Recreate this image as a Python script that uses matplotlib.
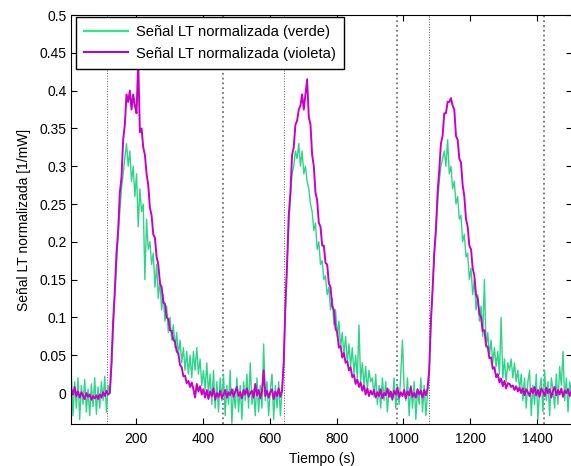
import numpy as np
import matplotlib
matplotlib.use('Agg')
import matplotlib.pyplot as plt
from matplotlib.lines import Line2D
from matplotlib.ticker import FuncFormatter

plt.rcParams['font.family'] = ['Liberation Sans', 'DejaVu Sans']

# muestreo cada 5 s desde t = 7 s
t0 = 7
dt = 5

# tramo A: linea base inicial (7-117 s)
violeta_a = [0.005, -0.002, 0.008, -0.004, 0.002, -0.006, 0.001, -0.003, -0.008, 0.000,
             -0.005, -0.002, -0.009, -0.004, -0.007, -0.003, -0.008, -0.002, -0.006, 0.001,
             -0.004, 0.003, -0.002]
verde_a = [0.025, -0.03, 0.015, -0.02, 0.02, -0.035, 0.01, -0.015, 0.018, -0.025,
           0.005, -0.03, 0.012, -0.018, 0.02, -0.028, 0.008, -0.02, 0.015, -0.01,
           0.022, -0.025, 0.01]

# tramo B: primer pulso (122-397 s)
violeta_b = [0.0, 0.04, 0.095, 0.135, 0.185, 0.215, 0.265, 0.285, 0.335, 0.355,
             0.395, 0.385, 0.40, 0.375, 0.395, 0.38, 0.37, 0.44, 0.345, 0.35,
             0.325, 0.315, 0.29, 0.275, 0.245, 0.235, 0.21, 0.205, 0.18, 0.17,
             0.145, 0.14, 0.12, 0.118, 0.1, 0.098, 0.083, 0.082, 0.07, 0.068,
             0.055, 0.052, 0.037, 0.034, 0.022, 0.023, 0.013, 0.016, 0.008, 0.014,
             0.005, -0.006, 0.012, 0.002, 0.009, -0.002]
verde_b = [0.0, 0.03, 0.08, 0.13, 0.17, 0.21, 0.24, 0.27, 0.29, 0.31,
           0.33, 0.30, 0.32, 0.28, 0.30, 0.26, 0.29, 0.22, 0.27, 0.24,
           0.25, 0.15, 0.23, 0.19, 0.20, 0.17, 0.185, 0.14, 0.17, 0.125,
           0.15, 0.11, 0.13, 0.095, 0.115, 0.08, 0.10, 0.07, 0.09, 0.06,
           0.08, 0.05, 0.07, 0.04, 0.06, 0.03, 0.055, 0.025, 0.05, 0.02,
           0.055, 0.03, 0.06, 0.025, 0.045, 0.01]

# tramo C: linea base (402-637 s)
violeta_c = [0.005, -0.006, 0.004, -0.008, 0.002, -0.004, 0.006, -0.009, 0.000, -0.005,
             0.003, -0.007, -0.002, 0.004, -0.006, 0.001, -0.003, 0.005, -0.005, 0.002,
             0.008, -0.004, 0.001, -0.007, 0.004, -0.002, 0.006, -0.005, 0.0, 0.003,
             -0.006, 0.012, -0.003, 0.004, -0.007, 0.002, 0.03, -0.004, 0.003, -0.006,
             0.001, 0.005, -0.008, 0.002, -0.004, 0.006, -0.005, 0.003]
verde_c = [0.03, 0.005, 0.04, 0.0, 0.025, -0.015, 0.03, -0.02, 0.015, -0.025,
           0.02, -0.01, 0.025, -0.03, 0.01, -0.015, 0.03, -0.04, 0.005, -0.02,
           0.02, -0.025, 0.01, -0.035, 0.015, -0.01, 0.025, -0.02, 0.04, -0.015,
           0.005, -0.03, 0.02, -0.025, 0.01, -0.02, 0.065, -0.01, 0.015, -0.03,
           0.005, 0.025, -0.035, 0.01, -0.02, 0.015, -0.03, 0.005]

# tramo D: segundo pulso (642-902 s)
violeta_d = [0.04, 0.115, 0.17, 0.235, 0.265, 0.315, 0.325, 0.355, 0.36, 0.375,
             0.38, 0.395, 0.375, 0.395, 0.415, 0.365, 0.355, 0.315, 0.3, 0.265,
             0.255, 0.225, 0.22, 0.195, 0.195, 0.172, 0.17, 0.145, 0.14, 0.115,
             0.11, 0.085, 0.08, 0.06, 0.062, 0.047, 0.053, 0.04, 0.042, 0.03,
             0.034, 0.021, 0.024, 0.012, 0.018, 0.008, 0.014, 0.003, 0.01, -0.002,
             0.006, -0.004, 0.003]
verde_d = [0.04, 0.11, 0.17, 0.22, 0.26, 0.29, 0.30, 0.32, 0.31, 0.33,
           0.30, 0.32, 0.29, 0.30, 0.28, 0.27, 0.25, 0.24, 0.215, 0.225,
           0.19, 0.20, 0.17, 0.175, 0.15, 0.155, 0.13, 0.14, 0.11, 0.125,
           0.09, 0.11, 0.075, 0.095, 0.06, 0.08, 0.05, 0.075, 0.04, 0.065,
           0.035, 0.06, 0.025, 0.05, 0.02, 0.09, 0.015, 0.04, 0.01, 0.035,
           0.005, 0.03, 0.015]

# tramo E: linea base (907-1072 s)
violeta_e = [-0.002, 0.004, -0.006, 0.001, -0.004, 0.005, -0.007, 0.0, -0.003, 0.006,
             -0.005, 0.002, -0.008, 0.003, -0.002, 0.007, -0.006, 0.001, -0.004, 0.004,
             -0.007, 0.002, -0.003, 0.008, -0.005, 0.0, -0.006, 0.005, -0.002, 0.003,
             -0.006, 0.004, -0.003, 0.006]
verde_e = [0.02, -0.005, 0.025, -0.015, 0.01, -0.02, 0.02, -0.01, 0.015, -0.025,
           0.005, -0.005, -0.01, 0.02, -0.02, 0.01, -0.015, 0.025, 0.07, 0.005,
           -0.01, 0.02, -0.03, 0.01, -0.02, 0.015, -0.035, 0.005, -0.015, 0.02,
           -0.025, 0.01, -0.03, 0.0]

# tramo F: tercer pulso (1077-1312 s)
violeta_f = [0.03, 0.095, 0.135, 0.185, 0.215, 0.265, 0.295, 0.33, 0.34, 0.37,
             0.37, 0.385, 0.385, 0.39, 0.38, 0.375, 0.34, 0.335, 0.31, 0.305,
             0.275, 0.26, 0.23, 0.22, 0.195, 0.19, 0.165, 0.155, 0.13, 0.125,
             0.105, 0.1, 0.082, 0.083, 0.063, 0.061, 0.046, 0.047, 0.032, 0.034,
             0.021, 0.025, 0.014, 0.019, 0.009, 0.016, 0.006, 0.013]
verde_f = [0.03, 0.09, 0.14, 0.18, 0.22, 0.25, 0.28, 0.30, 0.31, 0.32,
           0.30, 0.335, 0.29, 0.30, 0.27, 0.28, 0.25, 0.26, 0.23, 0.235,
           0.20, 0.21, 0.18, 0.185, 0.15, 0.165, 0.13, 0.15, 0.11, 0.13,
           0.095, 0.115, 0.075, 0.15, 0.06, 0.08, 0.05, 0.07, 0.04, 0.06,
           0.035, 0.055, 0.025, 0.1, 0.02, 0.045, 0.015, 0.04]

# tramo G: linea base final (1317-1502 s)
violeta_g = [0.012, 0.008, 0.01, 0.004, 0.009, 0.002, 0.007, 0.0, 0.006, -0.003,
             0.005, 0.001, -0.004, 0.006, 0.0, 0.008, -0.003, 0.004, -0.005, 0.006,
             0.002, -0.004, 0.007, 0.0, 0.005, -0.006, 0.003, 0.008, -0.003, 0.004,
             -0.002, 0.006, -0.005, 0.003, 0.0, 0.005, -0.004, 0.002]
verde_g = [0.03, 0.045, 0.02, 0.04, 0.015, 0.03, 0.005, 0.025, -0.01, 0.02,
           -0.02, 0.015, 0.03, -0.03, 0.01, -0.015, 0.025, -0.035, 0.005, 0.02,
           -0.025, 0.03, -0.01, 0.015, -0.03, 0.02, 0.005, -0.02, 0.025, -0.015,
           0.035, 0.01, 0.055, -0.01, 0.02, -0.025, 0.015, 0.0]

# lineas verticales (inicio y fin de cada exposicion)
inicios = [113, 642, 1075]
finales = [460, 982, 1420]

violeta = violeta_a + violeta_b + violeta_c + violeta_d + violeta_e + violeta_f + violeta_g
verde = verde_a + verde_b + verde_c + verde_d + verde_e + verde_f + verde_g
assert len(violeta) == len(verde), (len(violeta), len(verde))
t = t0 + dt * np.arange(len(violeta))

color_verde = '#2fd48a'
color_violeta = '#c800c8'

fig = plt.figure(figsize=(5.71, 4.66), dpi=100)
ax = fig.add_axes([0.1249, 0.0901, 0.8775, 0.8777])

for x in inicios:
    ax.axvline(x, color='0.35', ls=':', lw=0.7)
for x in finales:
    ax.axvline(x, color='0.45', ls=':', lw=1.3)

ax.plot(t, verde, color=color_verde, lw=1.0)
ax.plot(t, violeta, color=color_violeta, lw=1.4)

ax.set_xlim(7, 1505)
ax.set_ylim(-0.041, 0.5)
ax.set_xticks([200, 400, 600, 800, 1000, 1200, 1400])
ax.set_yticks(np.arange(0, 0.501, 0.05))
ax.yaxis.set_major_formatter(FuncFormatter(lambda v, p: f'{v:g}'))
ax.tick_params(direction='in', top=True, right=True, length=4, labelsize=10)
ax.tick_params(axis='x', pad=6)
ax.set_xlabel('Tiempo (s)', fontsize=10, labelpad=4)
ax.set_ylabel('Señal LT normalizada [1/mW]', fontsize=10, labelpad=6)

handles = [Line2D([], [], color='#2ee884', lw=1.6),
           Line2D([], [], color='#8e1cc4', lw=1.6)]
ax.legend(handles, ['Señal LT normalizada (verde)', 'Señal LT normalizada (violeta)'],
          loc='upper left', bbox_to_anchor=(0.0094, 0.995), borderaxespad=0,
          fancybox=False, framealpha=1, edgecolor='black', fontsize=10.6,
          handlelength=3.0, handletextpad=0.5, borderpad=0.55, labelspacing=0.5)

fig.savefig('out.png', dpi=100)
